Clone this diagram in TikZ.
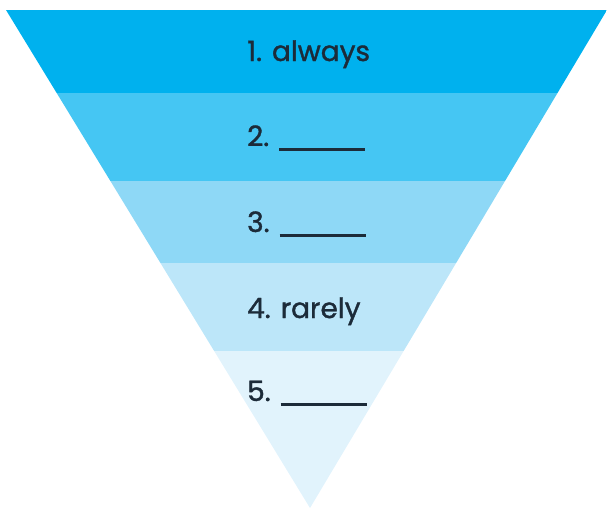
\documentclass[tikz,border=0pt]{standalone}
\usepackage{fontspec}
\setmainfont{Poppins}[FakeBold=1.3]
\definecolor{bandA}{HTML}{00B1EE}
\definecolor{bandB}{HTML}{45C6F3}
\definecolor{bandC}{HTML}{8ED8F6}
\definecolor{bandD}{HTML}{BCE6F9}
\definecolor{bandE}{HTML}{E1F3FC}
\definecolor{ink}{HTML}{1C2B39}
\tikzset{
  label/.style={anchor=base west, inner sep=0pt, text=ink, font=\fontsize{28}{30}\selectfont},
}
\newcommand{\blank}{\rule[-5pt]{86pt}{3pt}}
\begin{document}
\begin{tikzpicture}[x=1pt,y=-1pt]
\useasboundingbox (0,0) rectangle (607,509);
\begin{scope}
  \clip (6,10) -- (607,10) -- (310,508) -- cycle;
  \fill[bandA] (0,0) rectangle (607,93);
  \fill[bandB] (0,93) rectangle (607,181);
  \fill[bandC] (0,181) rectangle (607,263);
  \fill[bandD] (0,263) rectangle (607,351);
  \fill[bandE] (0,351) rectangle (607,509);
\end{scope}
\node[label] (l1) at (247,61) {1. always};
\node[label] (l2) at (247,146) {2.\hspace{10pt}\blank};
\node[label] (l3) at (247,232) {3.\hspace{10pt}\blank};
\node[label] (l4) at (247,318) {4. rarely};
\node[label] (l5) at (247,401) {5.\hspace{10pt}\blank};
\end{tikzpicture}
\end{document}
